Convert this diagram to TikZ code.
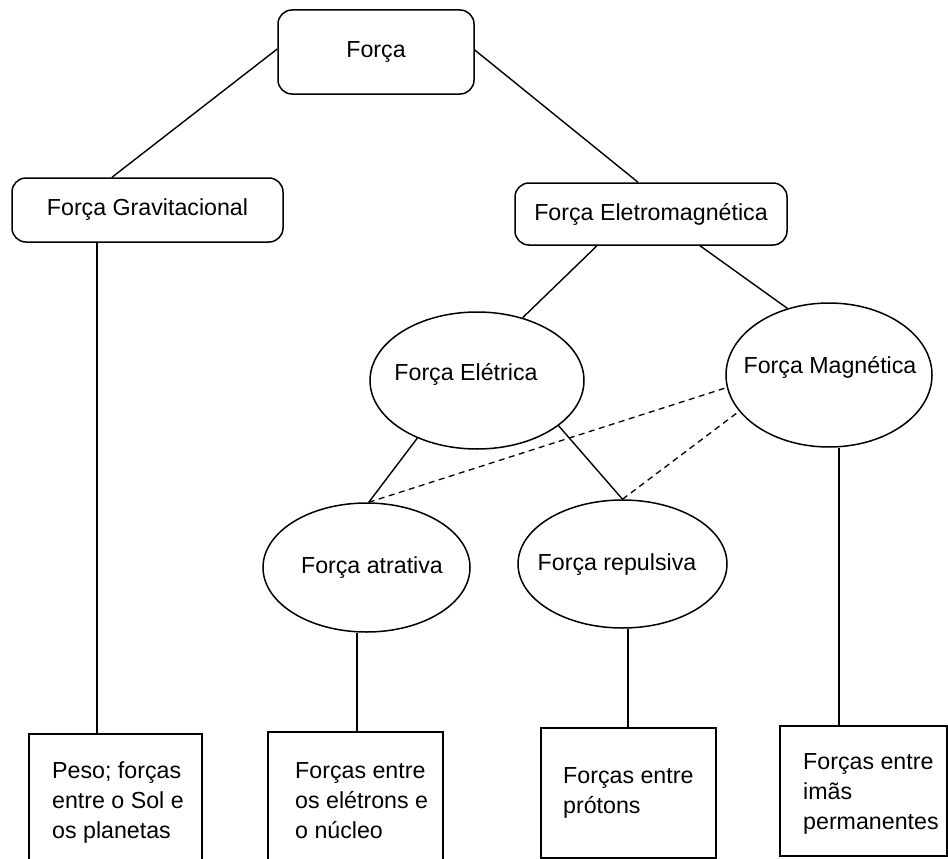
\documentclass[tikz,border=0pt]{standalone}
\usepackage{fontspec}
\setmainfont{Liberation Sans}
\usetikzlibrary{shapes.geometric}
\begin{document}
\begin{tikzpicture}[x=1pt,y=-1pt,
  every node/.style={font=\fontsize{23.2}{30}\selectfont, inner sep=0pt},
  rbox/.style={draw, rectangle, rounded corners=14pt, line width=1.5pt},
  ell/.style={draw, ellipse, line width=1.5pt},
  sqbox/.style={draw, rectangle, line width=1.5pt},
  conn/.style={line width=1.4pt},
  dconn/.style={line width=1.3pt, dash pattern=on 6pt off 4.5pt},
  lbl/.style={anchor=base},
  multi/.style={align=left, anchor=base west}
]
\useasboundingbox (0,0) rectangle (948,859);

% rounded boxes
\node[rbox, minimum width=196pt, minimum height=84pt] (forca) at (376,52) {Força};
\node[rbox, minimum width=271pt, minimum height=64pt] (grav) at (147.5,210) {Força Gravitacional};
\node[rbox, minimum width=272pt, minimum height=62pt] (em) at (651,214) {Força Eletromagnética};

% ellipses
\node[ell, minimum width=214pt, minimum height=137pt] (el) at (477,380.5) {};
\node[lbl] (elt) at (466,380) {Força Elétrica};
\node[ell, minimum width=206pt, minimum height=144pt] (mag) at (829,375) {};
\node[lbl] (magt) at (830,373) {Força Magnética};
\node[ell, minimum width=207pt, minimum height=129pt] (at) at (366.5,567.5) {};
\node[lbl] (att) at (372,573) {Força atrativa};
\node[ell, minimum width=209pt, minimum height=128pt] (rep) at (622.5,564) {};
\node[lbl] (rept) at (617,570) {Força repulsiva};

% bottom boxes
\node[sqbox, minimum width=173pt, minimum height=138pt] (b1) at (115.5,803) {};
\node[multi] (t1) at (52,838) {Peso; forças\\entre o Sol e\\os planetas};
\node[sqbox, minimum width=175pt, minimum height=140pt] (b2) at (355.5,802) {};
\node[multi] (t2) at (295,838) {Forças entre\\os elétrons e\\o núcleo};
\node[sqbox, minimum width=175pt, minimum height=130pt] (b3) at (628.5,793) {};
\node[multi] (t3) at (563,813) {Forças entre\\prótons};
\node[sqbox, minimum width=167pt, minimum height=130pt] (b4) at (863.5,791) {};
\node[multi] (t4) at (803,829) {Forças entre\\imãs\\permanentes};

% connectors
\draw[conn] ([yshift=3pt]forca.west) -- ([xshift=-35.5pt]grav.north);
\draw[conn] ([yshift=2pt]forca.east) -- ([xshift=-13pt]em.north);
\draw[conn] ([xshift=-50.5pt]grav.south) -- ([xshift=-50.5pt]grav.south |- b1.north);
\draw[conn] ([xshift=-54pt]em.south) -- (el.54);
\draw[conn] ([xshift=49pt]em.south) -- (mag.122);
\draw[conn] (el.224) -- (at.88);
\draw[conn] (el.331) -- (rep.north);
\draw[dconn] (at.88) -- (mag.187);
\draw[dconn] (rep.north) -- (mag.202);
\draw[conn] ([xshift=-9.5pt]at.south) -- ([xshift=-9.5pt]at.south |- b2.north);
\draw[conn] ([xshift=5.5pt]rep.south) -- ([xshift=5.5pt]rep.south |- b3.north);
\draw[conn] ([xshift=10pt]mag.south) -- ([xshift=10pt]mag.south |- b4.north);
\end{tikzpicture}
\end{document}
